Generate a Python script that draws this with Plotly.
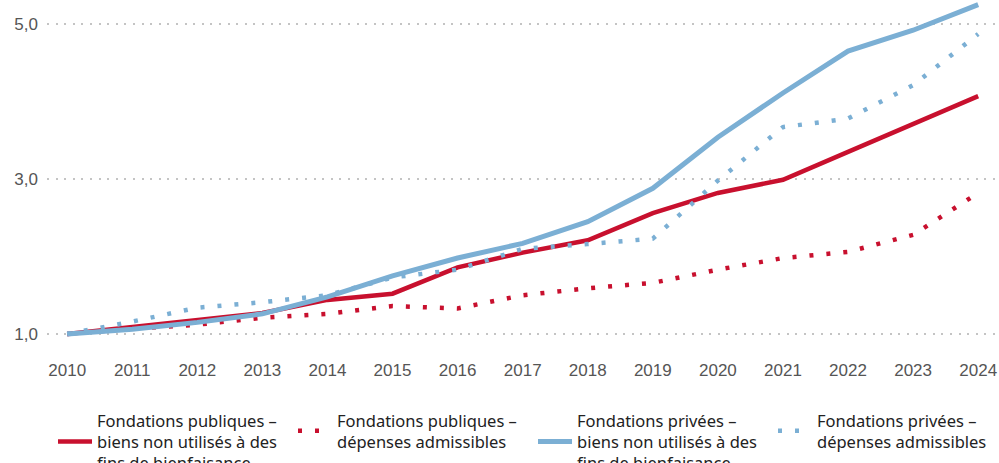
import plotly.graph_objects as go

years = list(range(2010, 2025))

pub_biens = [1.00, 1.09, 1.17, 1.27, 1.44, 1.52, 1.86, 2.05, 2.21, 2.56, 2.82, 2.99, 3.35, 3.71, 4.07]
pub_depenses = [1.00, 1.07, 1.12, 1.21, 1.26, 1.36, 1.33, 1.50, 1.59, 1.66, 1.83, 1.98, 2.06, 2.28, 2.82]
priv_biens = [1.00, 1.06, 1.15, 1.26, 1.48, 1.75, 1.98, 2.17, 2.45, 2.88, 3.54, 4.11, 4.65, 4.92, 5.25]
priv_depenses = [1.00, 1.16, 1.34, 1.41, 1.50, 1.73, 1.83, 2.10, 2.16, 2.23, 2.98, 3.67, 3.78, 4.21, 4.87]

names = [
    "Fondations publiques –<br>biens non utilisés à des<br>fins de bienfaisance",
    "Fondations publiques –<br>dépenses admissibles",
    "Fondations privées –<br>biens non utilisés à des<br>fins de bienfaisance",
    "Fondations privées –<br>dépenses admissibles",
]

y_ticks = [1, 3, 5]
y_tick_labels = ["1,0", "3,0", "5,0"]

RED = "#C8102E"
BLUE = "#7BAFD4"
DOT = "4px,13px"

colors = [RED, RED, BLUE, BLUE]
dashes = ["solid", DOT, "solid", DOT]
widths = [4.5, 4.5, 5, 4.5]
series = [pub_biens, pub_depenses, priv_biens, priv_depenses]
legend_ids = ["legend", "legend2", "legend3", "legend4"]
legend_left_px = [53, 293, 533, 773]

fig = go.Figure()
for s, n, c, d, w, lid in zip(series, names, colors, dashes, widths, legend_ids):
    fig.add_trace(go.Scatter(x=years, y=s, mode="lines", name=n, legend=lid,
                             line=dict(color=c, width=w, dash=d)))

legend_style = dict(
    orientation="v", xref="container", xanchor="left",
    yref="paper", y=-0.151, yanchor="top",
    font=dict(family="Noto Sans", size=16.5, color="#222"),
    itemwidth=34, valign="middle", bgcolor="rgba(0,0,0,0)",
)

layout_legends = {}
for lid, px in zip(legend_ids, legend_left_px):
    layout_legends[lid] = dict(legend_style, x=px / 999)

fig.update_layout(
    width=999, height=463,
    margin=dict(l=47, r=0, t=0, b=113, autoexpand=False),
    paper_bgcolor="white", plot_bgcolor="white",
    showlegend=True,
    hovermode=False,
    **layout_legends,
)
fig.update_xaxes(
    range=[2009.69, 2024.32], tickmode="array", tickvals=years,
    ticktext=[str(y) for y in years],
    showgrid=False, zeroline=False, showline=False, ticks="",
    tickfont=dict(family="Liberation Sans, Arial", size=17, color="#555"),
    ticklabelstandoff=8,
)
fig.update_yaxes(
    range=[0.7935, 5.31], tickmode="array", tickvals=y_ticks, ticktext=y_tick_labels,
    showgrid=True, gridcolor="#c4c4c4", gridwidth=2, griddash="2px,6.6px",
    zeroline=False, showline=False, ticks="",
    tickfont=dict(family="Liberation Sans, Arial", size=17, color="#555"),
    ticklabelstandoff=8,
)

fig.write_html("out.html", config={"displayModeBar": False},
               post_script="document.body.style.margin='0px';")
